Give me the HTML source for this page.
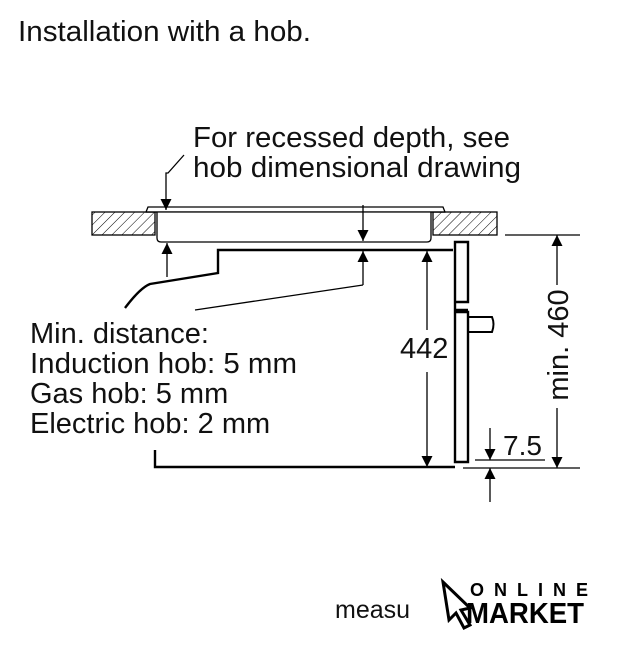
<!DOCTYPE html>
<html><head><style>
body{margin:0;background:#fff;width:637px;height:640px;overflow:hidden;font-family:"Liberation Sans",Arial,sans-serif}
</style></head><body>
<svg width="637" height="640" viewBox="0 0 637 640" xmlns="http://www.w3.org/2000/svg">
<defs>
<pattern id="h" width="7" height="7" patternUnits="userSpaceOnUse" patternTransform="rotate(45)">
<line x1="0" y1="0" x2="0" y2="7" stroke="#000" stroke-width="1"/>
</pattern>
<marker id="a" viewBox="0 0 10 10" refX="10" refY="5" markerWidth="13" markerHeight="11" orient="auto" markerUnits="userSpaceOnUse">
<path d="M0,0 L10,5 L0,10 z" fill="#000"/></marker>
</defs>
<g font-family="Liberation Sans, Arial, sans-serif" fill="#111">
<text x="18" y="41" font-size="29" textLength="293" lengthAdjust="spacingAndGlyphs">Installation with a hob.</text>
<text x="193" y="147" font-size="29" textLength="317" lengthAdjust="spacingAndGlyphs">For recessed depth, see</text>
<text x="193" y="177" font-size="29" textLength="328" lengthAdjust="spacingAndGlyphs">hob dimensional drawing</text>
<text x="30" y="343" font-size="29">Min. distance:</text>
<text x="30" y="373" font-size="29" textLength="267" lengthAdjust="spacingAndGlyphs">Induction hob: 5 mm</text>
<text x="30" y="403" font-size="29">Gas hob: 5 mm</text>
<text x="30" y="433" font-size="29">Electric hob: 2 mm</text>
<text x="400" y="358" font-size="29">442</text>
<text x="503" y="455" font-size="28">7.5</text>
<text transform="translate(568,345) rotate(-90)" text-anchor="middle" font-size="29">min. 460</text>
<text x="335" y="618" font-size="25">measu</text>
</g>
<g stroke="#000" fill="none" stroke-width="1.3">
<rect x="92" y="212" width="63" height="23" fill="url(#h)"/>
<rect x="433" y="212" width="64" height="23" fill="url(#h)"/>
<path d="M146,212 L148,207 L443,207 L445,212 Z" fill="#fff"/>
<path d="M157,212 L157,238 Q157,242 161,242 L427,242 Q431,242 431,238 L431,212" fill="#fff"/>
<line x1="146" y1="212" x2="445" y2="212"/>
<path d="M184,155 L168,173 L166,173 L166,210" marker-end="url(#a)"/>
<line x1="363" y1="205" x2="363" y2="241" marker-end="url(#a)"/>
<line x1="167" y1="277" x2="167" y2="243" marker-end="url(#a)"/>
<line x1="363" y1="285" x2="363" y2="251" marker-end="url(#a)"/>
<line x1="363" y1="285" x2="195" y2="310"/>
<path d="M453,250 L218,250 L218,273 L150,284 Q140,288 125,308" stroke-width="2.4"/>
<path d="M155,450 L155,467 L455,467" stroke-width="2.4"/>
<path d="M455,242 L468,242 L468,302 L455,302 Z M455,302 L455,310 L468,310 M455,312 L468,312 L468,462 L455,462 Z" stroke-width="2.4" fill="#fff"/>
<path d="M468,317 L492,317 Q495,324 492,332 L468,332" stroke-width="2"/>
<line x1="427" y1="330" x2="427" y2="251" marker-end="url(#a)"/>
<line x1="427" y1="372" x2="427" y2="467" marker-end="url(#a)"/>
<line x1="505" y1="235" x2="580" y2="235"/>
<line x1="463" y1="468" x2="580" y2="468"/>
<line x1="475" y1="460" x2="545" y2="460"/>
<line x1="557" y1="285" x2="557" y2="235" marker-end="url(#a)"/>
<line x1="557" y1="408" x2="557" y2="468" marker-end="url(#a)"/>
<line x1="490" y1="428" x2="490" y2="460" marker-end="url(#a)"/>
<line x1="490" y1="502" x2="490" y2="468" marker-end="url(#a)"/>
</g>
<g>
<path d="M443,582 L470,608 L461,610 L470,625 L464,628 L456,613 L449,620 Z" fill="#fff" stroke="#000" stroke-width="3"/>
<text x="470" y="596" font-size="18" font-weight="bold" letter-spacing="10" font-family="Liberation Sans, sans-serif">ONLINE</text>
<text x="466" y="623" font-size="29" font-weight="bold" font-family="Liberation Sans, sans-serif" textLength="118" lengthAdjust="spacingAndGlyphs">MARKET</text>
</g>
</svg>
</body></html>
